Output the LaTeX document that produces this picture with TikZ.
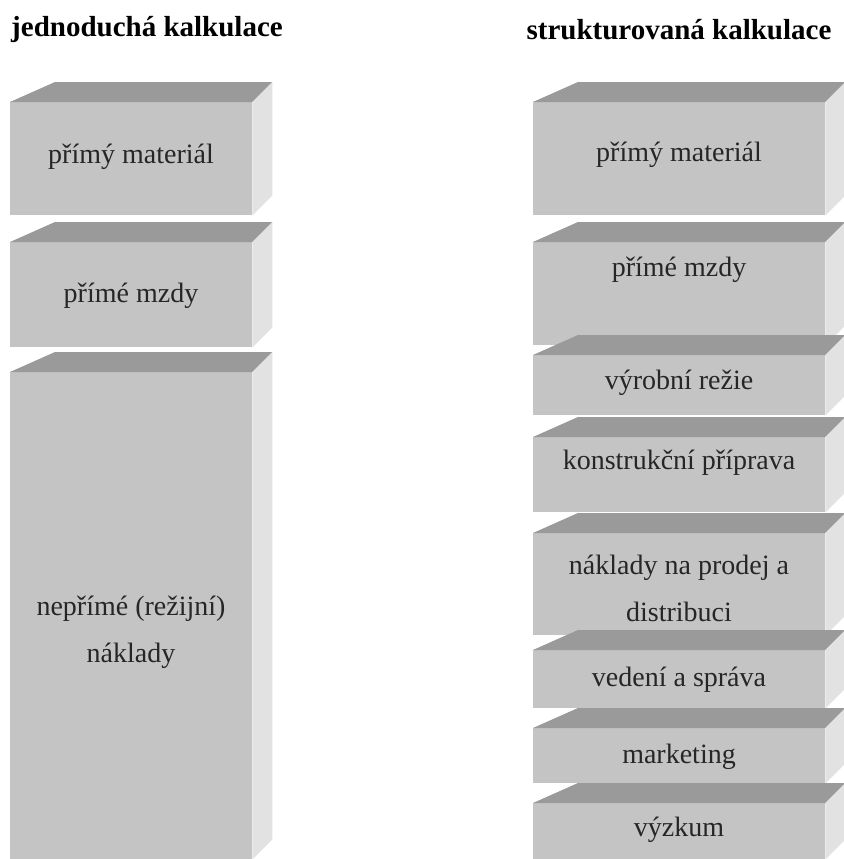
\documentclass[tikz,border=0pt]{standalone}
\usepackage{fontspec}
\setmainfont{Liberation Serif}
\usetikzlibrary{calc}

\definecolor{frontgray}{HTML}{C4C4C4}
\definecolor{topgray}{HTML}{9A9A9A}
\definecolor{sidegray}{HTML}{E2E2E2}

\tikzset{front/.style={fill=frontgray,draw=none,anchor=north west,inner sep=0pt}}
\tikzset{topface/.style={fill=topgray}}
\tikzset{sideface/.style={fill=sidegray}}

% name, x, y of front top edge, width, height
\newcommand{\kvadr}[5]{%
  \node[front,minimum width=#4pt,minimum height=#5pt] (#1) at (#2,#3) {};
  \fill[topface] (#1.north west) -- ++(45,-20) -- ($(#1.north east)+(20,-20)$) -- (#1.north east) -- cycle;
  \fill[sideface] (#1.north east) -- ++(20,-20) -- ($(#1.south east)+(20,-20)$) -- (#1.south east) -- cycle;
}

\begin{document}
\begin{tikzpicture}[x=1pt,y=-1pt]

\tikzstyle{lab}=[align=center,font=\fontsize{28}{47}\selectfont,text=black!85]
\tikzstyle{title}=[font=\fontsize{29}{34}\selectfont\bfseries]

\fill[white] (0,0) rectangle (843,859);
\useasboundingbox (0,0) rectangle (843,859);

 \node[title] (tj) at (147,30) {jednoduchá kalkulace};
 \node[title] (ts) at (679,30) {strukturovaná kalkulace};

 % jednoducha
 \kvadr{j1}{10}{102}{242}{113}
 \kvadr{j2}{10}{242}{242}{105}
 \kvadr{j3}{10}{372}{242}{487}

 \node[lab] (lj1) at (131,157) {přímý materiál};
 \node[lab] (lj2) at (131,296) {přímé mzdy};
 \node[lab] (lj3) at (131,632) {nepřímé (režijní)\\náklady};

 % strukturovana
 \kvadr{s1}{533}{102}{292}{113}
 \kvadr{s2}{533}{242}{292}{103}
 \kvadr{s3}{533}{355}{292}{60}
 \kvadr{s4}{533}{437}{292}{75}
 \kvadr{s5}{533}{533}{292}{102}
 \kvadr{s6}{533}{650}{292}{58}
 \kvadr{s7}{533}{728}{292}{55}
 \kvadr{s8}{533}{803}{292}{56}

 \node[lab] (ls1) at (679,155) {přímý materiál};
 \node[lab] (ls2) at (679,270) {přímé mzdy};
 \node[lab] (ls3) at (679,383) {výrobní režie};
 \node[lab] (ls4) at (679,463) {konstrukční příprava};
 \node[lab] (ls5) at (679,588) {náklady na prodej a\\distribuci};
 \node[lab] (ls6) at (679,680) {vedení a správa};
 \node[lab] (ls7) at (679,757) {marketing};
 \node[lab] (ls8) at (679,830) {výzkum};
\end{tikzpicture}
\end{document}
